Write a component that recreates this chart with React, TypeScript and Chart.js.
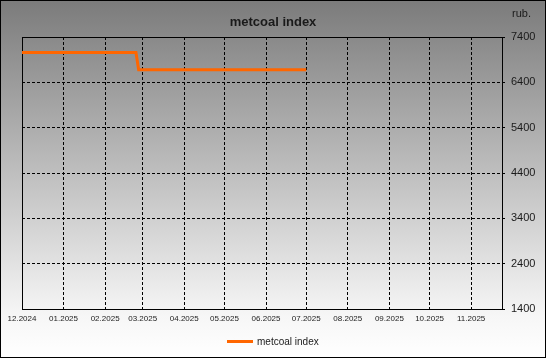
import React, { useEffect, useRef } from "react";
import { Chart, registerables } from "chart.js";

Chart.register(...registerables);

const seriesName = "metcoal index";
const chartTitle = "metcoal index";
const unitLabel = "rub.";
const pointDates = ["2024-12-01", "2025-01-01", "2025-02-01", "2025-02-24", "2025-02-26", "2025-04-01", "2025-05-01", "2025-06-01", "2025-07-01"];
const pointValues = [7060, 7060, 7060, 7060, 6680, 6680, 6680, 6680, 6680];
const monthLabels = ["12.2024", "01.2025", "02.2025", "03.2025", "04.2025", "05.2025", "06.2025", "07.2025", "08.2025", "09.2025", "10.2025", "11.2025"];
const xRange = ["2024-12-01", "2025-11-24"];
const yTicks = [1400, 2400, 3400, 4400, 5400, 6400, 7400];

const FONT = "'Liberation Sans', Arial, sans-serif";
const ORANGE = "#ff6600";

const toTs = (d: string) => Date.parse(d + "T00:00:00Z");
const labelToTs = (l: string) => {
  const [m, y] = l.split(".");
  return Date.UTC(Number(y), Number(m) - 1, 1);
};
const fmt = (v: number) => {
  const d = new Date(v);
  const m = String(d.getUTCMonth() + 1).padStart(2, "0");
  return `${m}.${d.getUTCFullYear()}`;
};

const decorPlugin = {
  id: "decor",
  beforeDraw(chart: any) {
    const { ctx, width, height } = chart;
    ctx.save();
    const g = ctx.createLinearGradient(0, 0, 0, height);
    g.addColorStop(0, "#7b7b7b");
    g.addColorStop(0.88, "#f6f6f6");
    g.addColorStop(1, "#ffffff");
    ctx.fillStyle = g;
    ctx.fillRect(0, 0, width, height);
    ctx.restore();
  },
  beforeDatasetsDraw(chart: any) {
    const { ctx, chartArea: a } = chart;
    ctx.save();
    ctx.strokeStyle = "#000";
    ctx.lineWidth = 1;
    ctx.setLineDash([]);
    ctx.strokeRect(Math.round(a.left) + 0.5, Math.round(a.top) + 0.5, Math.round(a.right - a.left), Math.round(a.bottom - a.top));
    ctx.restore();
  },
  afterDraw(chart: any) {
    const { ctx, width, height } = chart;
    ctx.save();
    ctx.strokeStyle = "#000";
    ctx.lineWidth = 1;
    ctx.strokeRect(0.5, 0.5, width - 1, height - 1);
    ctx.fillStyle = "#1a1a1a";
    ctx.font = `bold 13px ${FONT}`;
    ctx.textAlign = "center";
    ctx.textBaseline = "middle";
    ctx.fillText(chartTitle, 273, 22);
    ctx.font = `11px ${FONT}`;
    ctx.textAlign = "left";
    ctx.fillText(unitLabel, 512, 14);
    // legend
    ctx.strokeStyle = ORANGE;
    ctx.lineWidth = 3;
    ctx.beginPath();
    ctx.moveTo(227, 341.5);
    ctx.lineTo(253, 341.5);
    ctx.stroke();
    ctx.font = `10px ${FONT}`;
    ctx.fillStyle = "#1a1a1a";
    ctx.fillText(seriesName, 257, 342);
    ctx.restore();
  },
};

export default function App() {
  const ref = useRef<HTMLCanvasElement | null>(null);
  useEffect(() => {
    if (!ref.current) return;
    const data = pointDates.map((d, i) => ({ x: toTs(d), y: pointValues[i] }));
    const tickVals = monthLabels.map(labelToTs);
    const chart = new Chart(ref.current, {
      type: "line",
      data: {
        datasets: [
          {
            label: seriesName,
            data,
            borderColor: ORANGE,
            backgroundColor: ORANGE,
            borderWidth: 3,
            pointRadius: 0,
            tension: 0,
            fill: false,
          },
        ],
      },
      options: {
        responsive: false,
        animation: false,
        devicePixelRatio: 1,
        layout: { padding: { left: 22, top: 37, right: 0, bottom: 0 } },
        plugins: {
          legend: { display: false },
          title: { display: false },
          tooltip: { enabled: false },
        },
        scales: {
          x: {
            type: "linear",
            min: toTs(xRange[0]),
            max: toTs(xRange[1]),
            afterBuildTicks: (scale: any) => {
              scale.ticks = tickVals.map((v) => ({ value: v }));
            },
            afterFit: (scale: any) => {
              scale.height = 49;
            },
            ticks: {
              callback: (v: any) => fmt(Number(v)),
              font: { family: FONT, size: 8 },
              color: "#222",
              maxRotation: 0,
              autoSkip: false,
              padding: 5,
            },
            grid: {
              color: "#000",
              lineWidth: 1,
              drawTicks: false,
            },
            border: { display: false, dash: [3, 2] },
          },
          y: {
            type: "linear",
            position: "right",
            min: 1400,
            max: 7400,
            afterBuildTicks: (scale: any) => {
              scale.ticks = yTicks.map((v) => ({ value: v }));
            },
            afterFit: (scale: any) => {
              scale.width = 44;
            },
            ticks: {
              font: { family: FONT, size: 11 },
              color: "#1a1a1a",
              padding: 6,
              callback: (v: any) => String(v),
            },
            grid: {
              color: "#000",
              lineWidth: 1,
              drawTicks: true,
              tickLength: 3,
              tickColor: "#000",
              tickBorderDash: [],
            } as any,
            border: { display: false, dash: [3, 2] },
          },
        },
      },
      plugins: [decorPlugin],
    } as any);
    return () => chart.destroy();
  }, []);
  return (
    <div style={{ position: "fixed", left: 0, top: 0, width: 546, height: 358 }}>
      <canvas ref={ref} width={546} height={358} style={{ display: "block", width: 546, height: 358 }} />
    </div>
  );
}
